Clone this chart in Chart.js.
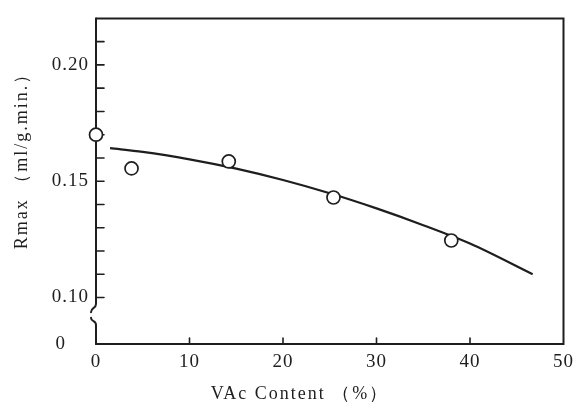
<!DOCTYPE html>
<html>
<head>
<meta charset="utf-8">
<script src="https://cdn.jsdelivr.net/npm/chart.js@4.4.1/dist/chart.umd.min.js"></script>
<style>
  html, body { margin: 0; padding: 0; background: #fff; }
  #wrap { width: 580px; height: 408px; }
</style>
</head>
<body>
<div id="wrap"><canvas id="rmaxChart"></canvas></div>
<script>
// ─── DATA ─────────────────────────────────────────────────────────────────────
// measured Rmax against VAc content
const vacContent = [0, 3.8, 14.2, 25.4, 38.0];
const rmaxMeasured = [0.170, 0.1555, 0.1585, 0.143, 0.1245];

// smoothed trend through the measurements
const fitContent = [1.5, 5, 10, 15, 20, 25, 30, 35, 40, 46.7];
const fitRmax = [0.1642, 0.1626, 0.1594, 0.1554, 0.1505, 0.1448, 0.1383, 0.1311, 0.1232, 0.1100];

const xTickValues = [0, 10, 20, 30, 40, 50];
const yLabelValues = [0.08, 0.10, 0.15, 0.20];
const yLabelText = ['0    ', '0.10', '0.15', '0.20'];

const xTitle = 'VAc Content （%）';
const yTitle = 'Rmax （ml/g.min.）';

// ─── STYLE ────────────────────────────────────────────────────────────────────
const ink = '#1e1e1e';
const serif = "'Liberation Serif', 'DejaVu Serif', serif";

// frame, inward ticks and the broken left axis
const framePlugin = {
    id: 'frame',
    beforeDraw(chart) {
        chart.ctx.letterSpacing = '1px';
    },
    beforeDatasetsDraw(chart) {
        const { ctx, chartArea: a, scales: { x, y } } = chart;
        ctx.save();
        ctx.strokeStyle = ink;
        ctx.lineWidth = 2;
        ctx.lineCap = 'round';

        // top, right, bottom
        ctx.beginPath();
        ctx.moveTo(a.left, a.top);
        ctx.lineTo(a.right, a.top);
        ctx.lineTo(a.right, a.bottom);
        ctx.lineTo(a.left, a.bottom);
        ctx.stroke();

        // left axis with break marks
        const L = a.left;
        ctx.beginPath();
        ctx.moveTo(L, a.top);
        ctx.lineTo(L, y.getPixelForValue(0.0972));
        ctx.bezierCurveTo(L, y.getPixelForValue(0.0950), L - 5, y.getPixelForValue(0.0958), L - 5, y.getPixelForValue(0.0937));
        ctx.stroke();
        ctx.beginPath();
        ctx.moveTo(L - 5, y.getPixelForValue(0.0913));
        ctx.bezierCurveTo(L - 5, y.getPixelForValue(0.0893), L, y.getPixelForValue(0.0903), L, y.getPixelForValue(0.0882));
        ctx.lineTo(L, a.bottom);
        ctx.stroke();

        // inward ticks
        ctx.lineWidth = 1.6;
        ctx.beginPath();
        y.ticks.forEach(t => {
            if (t.value < 0.095 || t.value > 0.215) return;
            const py = y.getPixelForValue(t.value);
            ctx.moveTo(L, py);
            ctx.lineTo(L + 8, py);
        });
        x.ticks.forEach(t => {
            if (t.value <= 0 || t.value >= 50) return;
            const px = x.getPixelForValue(t.value);
            ctx.moveTo(px, a.bottom);
            ctx.lineTo(px, a.bottom - 6);
        });
        ctx.stroke();
        ctx.restore();
    },
    afterDraw(chart) {
        const { ctx, chartArea: a } = chart;
        ctx.save();
        ctx.fillStyle = ink;
        ctx.font = '18px ' + serif;
        ctx.letterSpacing = '2px';
        ctx.textAlign = 'center';
        ctx.textBaseline = 'middle';
        ctx.fillText(xTitle, a.left + 204, a.bottom + 50);
        ctx.translate(22, a.top + 138);
        ctx.rotate(-Math.PI / 2);
        ctx.fillText(yTitle, 0, 0);
        ctx.restore();
    }
};

// ─── CHART ────────────────────────────────────────────────────────────────────
new Chart(document.getElementById('rmaxChart'), {
    type: 'scatter',
    data: {
        datasets: [
            {
                label: 'Rmax',
                data: vacContent.map((v, i) => ({ x: v, y: rmaxMeasured[i] })),
                pointStyle: 'circle',
                pointRadius: 6.5,
                pointBorderWidth: 1.7,
                pointBorderColor: ink,
                pointBackgroundColor: '#fff',
                clip: false,
                order: 0
            },
            {
                label: 'trend',
                data: fitContent.map((v, i) => ({ x: v, y: fitRmax[i] })),
                showLine: true,
                borderColor: ink,
                borderWidth: 2.2,
                pointRadius: 0,
                tension: 0.4,
                cubicInterpolationMode: 'monotone',
                order: 1
            }
        ]
    },
    options: {
        responsive: true,
        maintainAspectRatio: false,
        animation: false,
        layout: { padding: { top: 13, right: 12, left: 0, bottom: 0 } },
        plugins: { legend: { display: false }, tooltip: { enabled: false } },
        scales: {
            x: {
                type: 'linear',
                min: 0,
                max: 50,
                afterFit: s => { s.height = 64; },
                afterBuildTicks: s => { s.ticks = xTickValues.map(v => ({ value: v })); },
                grid: { display: false, drawTicks: false },
                border: { display: false },
                ticks: {
                    padding: 7,
                    color: ink,
                    font: { family: serif, size: 19 },
                    maxRotation: 0
                }
            },
            y: {
                min: 0.08,
                max: 0.22,
                afterFit: s => { s.width = 96; },
                grid: { display: false, drawTicks: false },
                border: { display: false },
                ticks: {
                    stepSize: 0.01,
                    autoSkip: false,
                    padding: 7,
                    color: ink,
                    font: { family: serif, size: 19 },
                    callback: v => {
                        const i = yLabelValues.findIndex(t => Math.abs(t - v) < 1e-6);
                        return i >= 0 ? yLabelText[i] : '';
                    }
                }
            }
        }
    },
    plugins: [framePlugin]
});
</script>
</body>
</html>
